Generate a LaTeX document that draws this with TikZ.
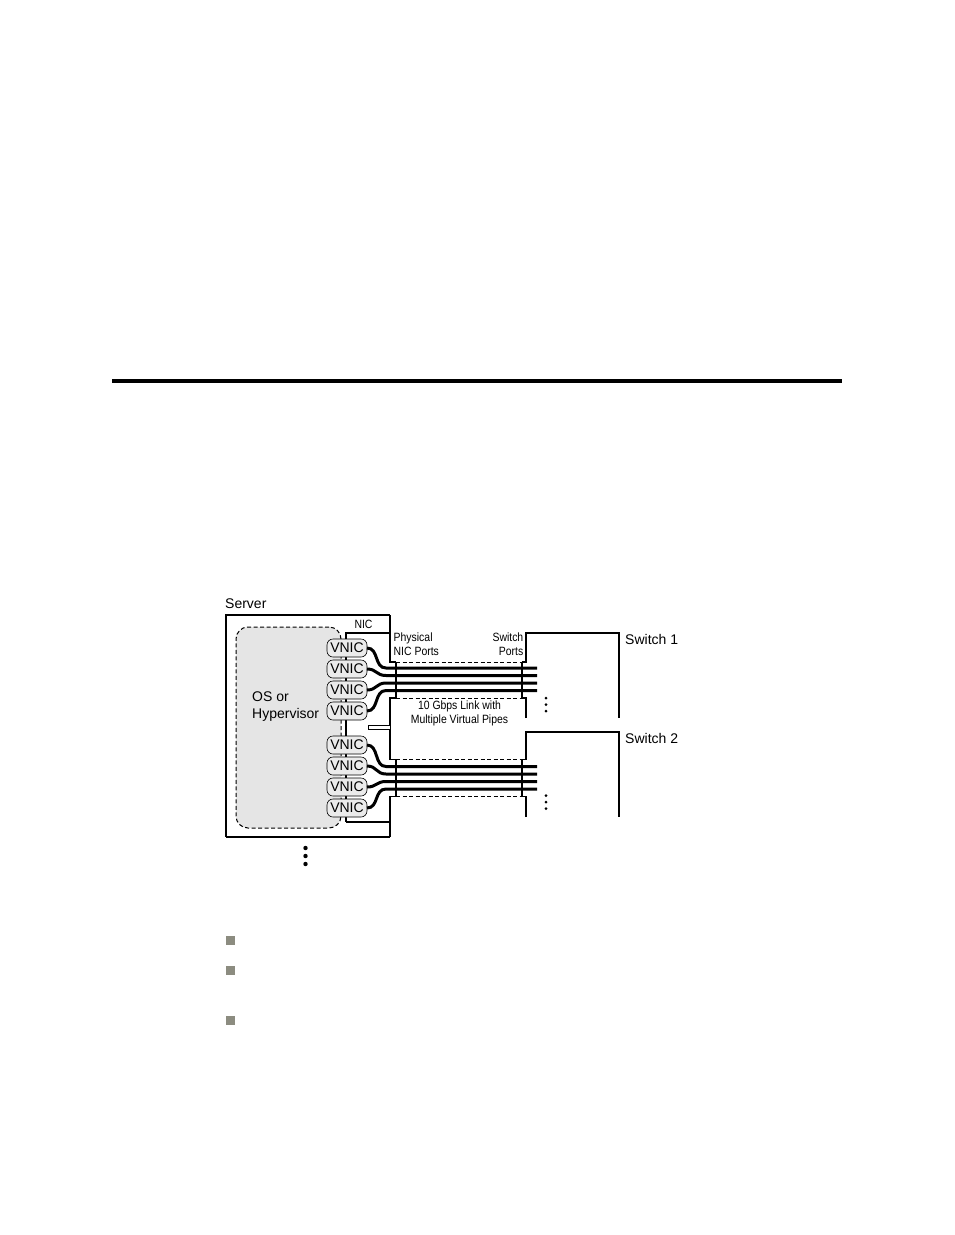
\documentclass[tikz,border=0pt]{standalone}
\usepackage{fontspec}
\setmainfont{Liberation Sans}
\newfontfamily\narrowfont[FakeStretch=0.87]{Liberation Sans}
\usetikzlibrary{positioning}
\definecolor{bulletgray}{RGB}{140,140,128}

\begin{document}
\begin{tikzpicture}[
    x=1pt, y=-1pt,
    node distance=3pt,
    lbl/.style={font=\fontsize{14}{17}\selectfont, inner sep=0pt},
    smalllbl/.style={font=\narrowfont\fontsize{12}{14.5}\selectfont, inner sep=0pt},
    vnic/.style={draw, fill=black!8, rounded corners=6pt, minimum width=40pt, minimum height=18pt,
                 inner sep=0pt, outer sep=0pt, font=\fontsize{14}{16}\selectfont, line width=0.6pt},
    osbox/.style={draw, dash pattern=on 4pt off 2.5pt, fill=black!10, rounded corners=12pt,
                  line width=1pt, inner sep=0pt, outer sep=0pt},
    edge/.style={line width=1.2pt},
    swedge/.style={line width=1.8pt},
    port/.style={line width=2.8pt},
    wire/.style={line width=3pt},
    pipe/.style={dash pattern=on 4pt off 2.5pt, line width=0.8pt},
    bullet/.style={fill=bulletgray},
]
\useasboundingbox (0,0) rectangle (954,1235);

% === Page rule ===
\draw[line width=4pt] (112,381) -- (842,381);

% === Server ===
\node[lbl, anchor=base west] (srvlbl) at (225,608) {Server};
\node[osbox, anchor=north west, minimum width=105pt, minimum height=201pt] (os) at (236,627) {};
\node[lbl, anchor=north west, align=left] (oslbl) at (252,692) {OS or\\Hypervisor};

% ports on both ends of the links
\coordinate (nicA1) at (396,662);   \coordinate (nicA2) at (396,698);
\coordinate (nicB1) at (396,759.5); \coordinate (nicB2) at (396,796.5);
\coordinate (swA1) at (522,662);    \coordinate (swA2) at (522,698);
\coordinate (swB1) at (522,759.5);  \coordinate (swB2) at (522,796.5);

\draw[edge] (390,615) -- (226,615) -- (226,837);
\draw[line width=2pt] (226,837) -- (390,837);
\draw[edge] (390,615) -- (390,662) -- (nicA1);
\draw[edge] (nicA2) -- (390,698) -- (390,759.5) -- (nicB1);
\draw[edge] (nicB2) -- (390,796.5) -- (390,837);

% NIC
\draw[edge] (390,633) -- (346,633) -- (346,822);
\draw[line width=2pt] (346,822) -- (390,822);
\node[smalllbl, anchor=base] (niclbl) at (363.5,628) {NIC};
\draw[line width=0.8pt, fill=white] (368,725) rectangle (390,729.5);

% === VNICs ===
\node[vnic] (vnic1) at (347,648) {VNIC};
\node[vnic, below=of vnic1] (vnic2) {VNIC};
\node[vnic, below=of vnic2] (vnic3) {VNIC};
\node[vnic, below=of vnic3] (vnic4) {VNIC};
\node[vnic, below=16pt of vnic4] (vnic5) {VNIC};
\node[vnic, below=of vnic5] (vnic6) {VNIC};
\node[vnic, below=of vnic6] (vnic7) {VNIC};
\node[vnic, below=of vnic7] (vnic8) {VNIC};

% === Virtual pipes ===
\coordinate (la1) at (386,668);   \coordinate (ra1) at (537,668);
\coordinate (la2) at (386,675.5); \coordinate (ra2) at (537,675.5);
\coordinate (la3) at (386,683);   \coordinate (ra3) at (537,683);
\coordinate (la4) at (386,690.5); \coordinate (ra4) at (537,690.5);
\coordinate (lb1) at (386,766.5); \coordinate (rb1) at (537,766.5);
\coordinate (lb2) at (386,774);   \coordinate (rb2) at (537,774);
\coordinate (lb3) at (386,781.5); \coordinate (rb3) at (537,781.5);
\coordinate (lb4) at (386,789);   \coordinate (rb4) at (537,789);

\draw[wire] (vnic1.east) .. controls +(12,0) and +(-12,0) .. (la1) -- (ra1);
\draw[wire] (vnic2.east) .. controls +(10,0) and +(-10,0) .. (la2) -- (ra2);
\draw[wire] (vnic3.east) .. controls +(10,0) and +(-10,0) .. (la3) -- (ra3);
\draw[wire] (vnic4.east) .. controls +(12,0) and +(-12,0) .. (la4) -- (ra4);
\draw[wire] (vnic5.east) .. controls +(12,0) and +(-12,0) .. (lb1) -- (rb1);
\draw[wire] (vnic6.east) .. controls +(10,0) and +(-10,0) .. (lb2) -- (rb2);
\draw[wire] (vnic7.east) .. controls +(10,0) and +(-10,0) .. (lb3) -- (rb3);
\draw[wire] (vnic8.east) .. controls +(12,0) and +(-12,0) .. (lb4) -- (rb4);

\draw[pipe] (nicA1) -- (swA1);
\draw[pipe] (nicA2) -- (swA2);
\draw[pipe] (nicB1) -- (swB1);
\draw[pipe] (nicB2) -- (swB2);

\draw[port] (nicA1) -- (nicA2);
\draw[port] (nicB1) -- (nicB2);
\draw[port] (swA1) -- (swA2);
\draw[port] (swB1) -- (swB2);

\node[smalllbl, anchor=north west, align=left] (nicports) at (393.5,632.5) {Physical\\NIC Ports};
\node[smalllbl, anchor=north east, align=right] (swports) at (523.5,632.5) {Switch\\Ports};
\node[smalllbl, anchor=north, align=center] (linklbl) at (459.5,700.5) {10 Gbps Link with\\Multiple Virtual Pipes};

% === Switches ===
\draw[swedge] (526,718) -- (526,698) -- (swA2);
\draw[swedge] (swA1) -- (526,662) -- (526,633) -- (619,633) -- (619,718);
\node[lbl, anchor=base west] (sw1lbl) at (625,644) {Switch 1};

\draw[swedge] (526,817) -- (526,796.5) -- (swB2);
\draw[swedge] (swB1) -- (526,759.5) -- (526,732) -- (619,732) -- (619,817);
\node[lbl, anchor=base west] (sw2lbl) at (625,743) {Switch 2};

% more links / more servers
\fill (546,698) circle (1.5) (546,704.5) circle (1.5) (546,711) circle (1.5);
\fill (546,795.5) circle (1.5) (546,802) circle (1.5) (546,808.5) circle (1.5);
\fill (305.5,848) circle (2.2) (305.5,856) circle (2.2) (305.5,864) circle (2.2);

% === Bullets ===
\fill[bullet] (226,936) rectangle (235,945);
\fill[bullet] (226,966) rectangle (235,975);
\fill[bullet] (226,1016) rectangle (235,1025);

\end{tikzpicture}
\end{document}
